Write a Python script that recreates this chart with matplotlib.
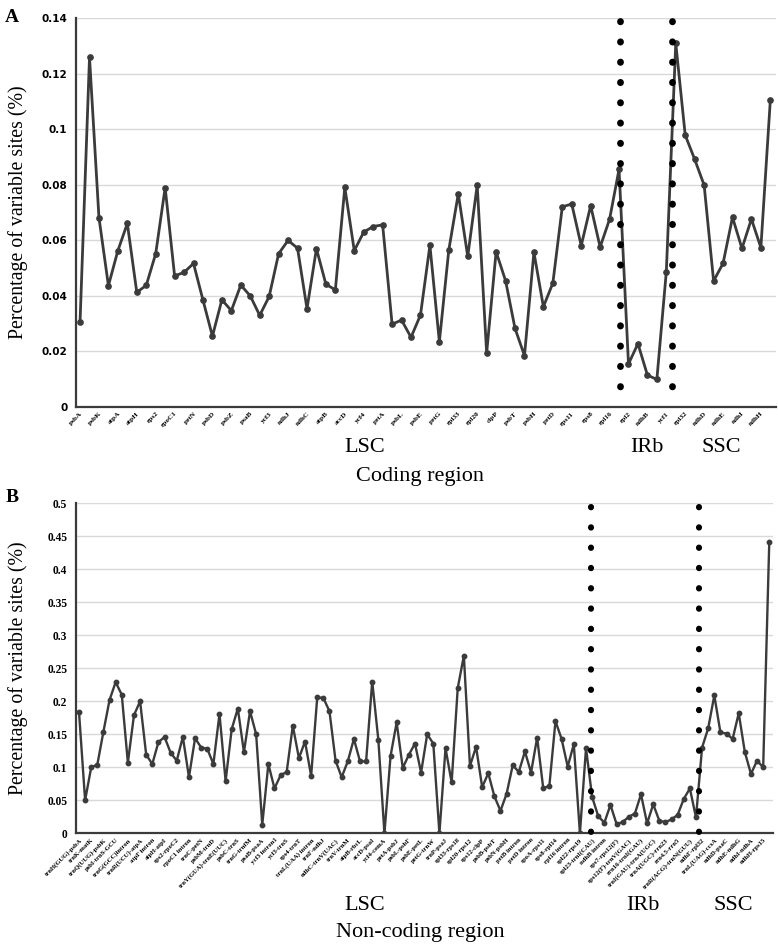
import matplotlib
matplotlib.use("Agg")
import matplotlib.pyplot as plt
import numpy as np

# ---------------- data ----------------
coding_labels = ["psbA", "psbK", "atpA", "atpH", "rps2", "rpoC1", "petN", "psbD", "psbZ",
                 "psaB", "ycf3", "ndhJ", "ndhC", "atpB", "accD", "ycf4", "petA", "psbL",
                 "psbE", "petG", "rpl33", "rpl20", "clpP", "psbT", "psbH", "petD", "rps11",
                 "rps8", "rpl16", "rpl2", "ndhB", "ycf1", "rpl32", "ndhD", "ndhE", "ndhI", "ndhH"]

coding_values = [0.0305, 0.1258, 0.0681, 0.0436, 0.0562, 0.0660, 0.0412, 0.0437, 0.0551, 0.0789,
                 0.0471, 0.0484, 0.0516, 0.0384, 0.0254, 0.0385, 0.0346, 0.0438, 0.0399, 0.0329,
                 0.0397, 0.0551, 0.0599, 0.0571, 0.0353, 0.0569, 0.0441, 0.0421, 0.0790, 0.0562,
                 0.0629, 0.0649, 0.0655, 0.0297, 0.0312, 0.0250, 0.0330, 0.0581, 0.0234, 0.0565,
                 0.0767, 0.0541, 0.0798, 0.0193, 0.0558, 0.0454, 0.0282, 0.0184, 0.0556, 0.0360,
                 0.0445, 0.0720, 0.0730, 0.0580, 0.0724, 0.0575, 0.0675, 0.0855, 0.0154, 0.0227,
                 0.0114, 0.0098, 0.0486, 0.1309, 0.0978, 0.0891, 0.0798, 0.0453, 0.0516, 0.0682,
                 0.0570, 0.0676, 0.0573, 0.1104]

noncoding_labels = ["trnH(GUG)-psbA", "trnK-matK", "trnQ(UUG)-psbK", "psbI-trnS-GCU",
                    "trnG(GCC)intron", "trnR(UCU)-atpA", "atpF intron", "atpH-atpI",
                    "rps2-rpoC2", "rpoC1 intron", "trnC-petN", "psbM-trnD",
                    "trnY(GUA)-trnE(UUC)", "psbC-trnS", "trnG-trnfM", "psaB-psaA",
                    "ycf3 intron1", "ycf3-trnS", "rps4-trnT", "trnL(UAA) intron",
                    "trnF-ndhJ", "ndhC-trnV(UAC)", "trnV-trnM", "atpB-rbcL", "accD-psaI",
                    "ycf4-cemA", "petA-psbJ", "psbL-psbF", "psbE-petL", "petG-trnW",
                    "trnP-psaJ", "rpl33-rps18", "rpl20-rps12", "rps12-clpP", "psbB-psbT",
                    "psbN-psbH", "petB intron", "petD intron", "rpoA-rps11", "rps8-rpl14",
                    "rpl16 intron", "rpl22-rps19", "rpl23-trnI(CAU)", "ndhB intron",
                    "rps7-rps12(F)", "rps12(F)-trnV(GAC)", "rrn16-trnI(GAU)",
                    "trnI(GAU)-trnA(UGC)", "trnA(UGC)-rrn23", "rrn4.5-rrn5",
                    "trnR(ACG)-trnN(GUU)", "ndhF-rpl32", "trnL(UAG)-ccsA", "ndhD-psaC",
                    "ndhE-ndhG", "ndhI-ndhA", "ndhH-rps15"]

noncoding_values = [0.184, 0.050, 0.100, 0.104, 0.154, 0.202, 0.229, 0.210, 0.107, 0.179,
                    0.200, 0.119, 0.105, 0.138, 0.146, 0.122, 0.110, 0.146, 0.085, 0.144,
                    0.130, 0.128, 0.105, 0.181, 0.079, 0.158, 0.189, 0.123, 0.185, 0.150,
                    0.013, 0.105, 0.068, 0.088, 0.093, 0.163, 0.114, 0.139, 0.087, 0.206,
                    0.205, 0.185, 0.110, 0.085, 0.109, 0.143, 0.109, 0.109, 0.230, 0.142,
                    0.000, 0.117, 0.168, 0.099, 0.119, 0.136, 0.092, 0.150, 0.136, 0.000,
                    0.129, 0.077, 0.220, 0.269, 0.102, 0.131, 0.070, 0.091, 0.056, 0.034,
                    0.060, 0.103, 0.093, 0.124, 0.092, 0.145, 0.068, 0.072, 0.170, 0.143,
                    0.101, 0.135, 0.000, 0.129, 0.055, 0.026, 0.016, 0.043, 0.014, 0.017,
                    0.025, 0.030, 0.059, 0.015, 0.044, 0.019, 0.017, 0.021, 0.028, 0.052,
                    0.068, 0.024, 0.130, 0.159, 0.209, 0.153, 0.151, 0.143, 0.182, 0.123,
                    0.090, 0.110, 0.100, 0.442]

coding_yticks = [0, 0.02, 0.04, 0.06, 0.08, 0.1, 0.12, 0.14]
coding_ytick_labels = ["0", "0.02", "0.04", "0.06", "0.08", "0.1", "0.12", "0.14"]
noncoding_yticks = [0, 0.05, 0.1, 0.15, 0.2, 0.25, 0.3, 0.35, 0.4, 0.45, 0.5]
noncoding_ytick_labels = ["0", "0.05", "0.1", "0.15", "0.2", "0.25", "0.3", "0.35", "0.4", "0.45", "0.5"]

# region boundaries (category index positions)
coding_bounds = [57.14, 62.56]
noncoding_bounds = [83.76, 101.44]

# ---------------- figure ----------------
W, H = 778, 950
fig = plt.figure(figsize=(W / 100, H / 100), dpi=100)

LINE = "#3b3b3b"
GRID = "#d9d9d9"
SERIF = ["Liberation Serif", "DejaVu Serif"]


def px(x, y):
    return x / W, 1 - y / H


def style_axes(ax):
    for s in ["top", "right"]:
        ax.spines[s].set_visible(False)
    for s in ["left", "bottom"]:
        ax.spines[s].set_color(LINE)
        ax.spines[s].set_linewidth(1.6)
    ax.yaxis.grid(True, color=GRID, linewidth=1.0)
    ax.set_axisbelow(True)
    ax.tick_params(axis="both", length=0)


def dotted_vline(ax, x, y_top, y_bot, lw, gap):
    ax.plot([x, x], [y_top, y_bot], color="black", lw=lw,
            linestyle=(0, (0.05, gap)), dash_capstyle="round", solid_capstyle="round",
            zorder=4, clip_on=False)


# ---- Panel A ----
axA = fig.add_axes([75.7 / W, 1 - 406.7 / H, (776 - 75.7) / W, (406.7 - 18) / H])
xA = np.arange(len(coding_values))
axA.plot(xA, coding_values, color=LINE, lw=2.0, marker="o", ms=3.8, zorder=3)
axA.set_xlim(-0.46, len(coding_values) - 1 + 0.6)
axA.set_ylim(0, 0.14)
axA.set_yticks(coding_yticks)
axA.set_yticklabels(coding_ytick_labels, fontfamily="DejaVu Sans", fontweight="bold", fontsize=7.5)
axA.set_xticks(xA[::2])
axA.set_xticklabels(coding_labels, rotation=45, ha="right", rotation_mode="anchor",
                    fontfamily=SERIF, fontweight="bold", fontsize=5.2)
axA.tick_params(axis="y", pad=6)
axA.tick_params(axis="x", pad=3)
style_axes(axA)
for b in coding_bounds:
    dotted_vline(axA, b, 0.1388, 0.0015, 4.9, 2.93)

# ---- Panel B ----
axB = fig.add_axes([75.7 / W, 1 - 833.3 / H, (772.7 - 75.7) / W, (833.3 - 503.3) / H])
xB = np.arange(len(noncoding_values))
axB.plot(xB, noncoding_values, color=LINE, lw=1.7, marker="o", ms=3.2, zorder=3)
axB.set_xlim(-0.54, len(noncoding_values) - 1 + 0.56)
axB.set_ylim(0, 0.5)
axB.set_yticks(noncoding_yticks)
axB.set_yticklabels(noncoding_ytick_labels, fontfamily=SERIF, fontweight="bold", fontsize=8.3)
axB.set_xticks(xB[::2])
axB.set_xticklabels(noncoding_labels, rotation=45, ha="right", rotation_mode="anchor",
                    fontfamily=SERIF, fontweight="bold", fontsize=4.8)
axB.tick_params(axis="y", pad=6)
axB.tick_params(axis="x", pad=3)
style_axes(axB)
for b in noncoding_bounds:
    dotted_vline(axB, b, 0.495, 0.0, 4.4, 3.27)

# ---- text ----
fig.text(*px(12, 17), "A", fontfamily=SERIF, fontweight="bold", fontsize=14, ha="center", va="center")
fig.text(*px(12, 498), "B", fontfamily=SERIF, fontweight="bold", fontsize=14, ha="center", va="center")

fig.text(*px(18, 212), "Percentage of variable sites (%)", fontfamily=SERIF, fontsize=14.3,
         rotation=90, ha="center", va="center")
fig.text(*px(18, 668), "Percentage of variable sites (%)", fontfamily=SERIF, fontsize=14.3,
         rotation=90, ha="center", va="center")

for label, x, y in [("LSC", 365, 447), ("IRb", 647, 447), ("SSC", 721, 447)]:
    fig.text(*px(x, y), label, fontfamily=SERIF, fontsize=16, ha="center", va="center")
fig.text(*px(420, 477), "Coding region", fontfamily=SERIF, fontsize=16, ha="center", va="center")

for label, x, y in [("LSC", 365, 905), ("IRb", 643, 905), ("SSC", 733, 905)]:
    fig.text(*px(x, y), label, fontfamily=SERIF, fontsize=16, ha="center", va="center")
fig.text(*px(420, 932), "Non-coding region", fontfamily=SERIF, fontsize=16, ha="center", va="center")

fig.savefig("out.png", dpi=100)
